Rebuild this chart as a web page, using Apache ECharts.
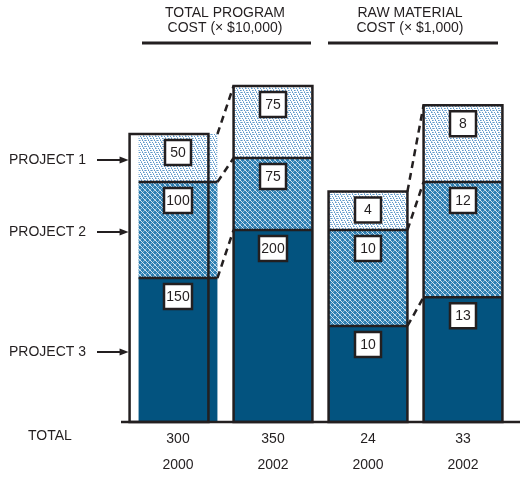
<!DOCTYPE html>
<html>
<head>
<meta charset="utf-8">
<script src="https://cdn.jsdelivr.net/npm/echarts@6/dist/echarts.min.js"></script>
<style>
  html, body { margin: 0; padding: 0; background: #fff; }
  #chart { width: 520px; height: 478px; }
</style>
</head>
<body>
<div id="chart"></div>
<script>
// ---- data ----
const categories = ['2000', '2002', '2000', '2002'];
const project1 = [50, 75, 4, 8];     // top segment
const project2 = [100, 75, 10, 12];  // middle segment
const project3 = [150, 200, 10, 13]; // bottom segment
const totals = [300, 350, 24, 33];
const projectNames = ['PROJECT 1', 'PROJECT 2', 'PROJECT 3'];
const groupTitles = ['TOTAL PROGRAM\nCOST (× $10,000)', 'RAW MATERIAL\nCOST (× $1,000)'];
const groupBars = [[0, 1], [2, 3]];

// ---- styling ----
const INK = '#231f20';
const FONT = '"Liberation Sans", Arial, Helvetica, sans-serif';
const frameShift = [-9, 0, 0, 0];

function makeHatch() {
  const s = 5, c = document.createElement('canvas');
  c.width = s; c.height = s;
  const g = c.getContext('2d');
  g.fillStyle = '#2f80b3'; g.fillRect(0, 0, s, s);
  g.fillStyle = 'rgba(255,255,255,0.8)';
  for (let i = 0; i < s; i++) { g.fillRect(i, i, 1, 1); }
  g.fillStyle = 'rgba(255,255,255,0.45)';
  for (let i = 0; i < s; i++) { if (i !== 2) g.fillRect(i, s - 1 - i, 1, 1); }
  return c;
}
function makeStipple() {
  const s = 6, c = document.createElement('canvas');
  c.width = s; c.height = s;
  const g = c.getContext('2d');
  g.fillStyle = '#ffffff'; g.fillRect(0, 0, s, s);
  g.fillStyle = '#5b97c8';
  [[0,0],[3,0],[1,2],[4,2],[2,4],[5,4]].forEach(p => g.fillRect(p[0], p[1], 1, 1));
  g.fillStyle = '#9cc0de';
  [[1,0],[4,1],[2,2],[5,3],[0,4],[3,5],[0,2]].forEach(p => g.fillRect(p[0], p[1], 1, 1));
  return c;
}
const fills = [
  '#03537f',
  { image: makeHatch(), repeat: 'repeat' },
  { image: makeStipple(), repeat: 'repeat' }
];

function stackYs(api, x, idx) {
  const vals = [api.value(1, idx), api.value(2, idx), api.value(3, idx)];
  const ys = [api.coord([x, 0])[1]];
  let cum = 0;
  vals.forEach(v => { cum += v; ys.push(api.coord([x, cum])[1]); });
  return { vals, ys };
}

function renderItem(params, api) {
  const x = api.value(0);
  const w = api.size([1, 0])[0] * 0.83;
  const cx = api.coord([x, 0])[0];
  const left = cx - w / 2, right = cx + w / 2;
  const { vals, ys } = stackYs(api, x);
  const yb = ys[0];
  const children = [];
  // segment fills
  for (let k = 0; k < 3; k++) {
    children.push({
      type: 'rect',
      shape: { x: left, y: ys[k + 1], width: w, height: ys[k] - ys[k + 1] },
      style: { fill: fills[k] }
    });
  }
  // frame
  const shift = frameShift[x];
  children.push({
    type: 'rect',
    shape: { x: left + shift, y: ys[3], width: w, height: yb - ys[3] },
    style: { fill: 'none', stroke: INK, lineWidth: 2.5 }
  });
  // dividers
  for (let k = 1; k <= 2; k++) {
    children.push({
      type: 'line',
      shape: { x1: left, y1: ys[k], x2: right, y2: ys[k] },
      style: { stroke: INK, lineWidth: 2.5 }
    });
  }
  // value boxes
  for (let k = 0; k < 3; k++) {
    const top = ys[k + 1];
    const bw = vals[k] >= 100 ? 28 : 26;
    children.push({
      type: 'rect',
      shape: { x: cx - bw / 2, y: top + 6, width: bw, height: 25 },
      style: { fill: '#fff', stroke: INK, lineWidth: 2.5 },
      z2: 5
    });
    children.push({
      type: 'text',
      style: {
        text: String(vals[k]), x: cx, y: top + 19,
        textAlign: 'center', textVerticalAlign: 'middle',
        align: 'center', verticalAlign: 'middle',
        font: '14px ' + FONT, fill: INK
      },
      z2: 6
    });
  }
  // dashed connectors to the previous bar of the pair
  if (params.dataIndexInside === 1) {
    const px = api.value(0, 0);
    const pcx = api.coord([px, 0])[0];
    const pRight = pcx + w / 2;
    const prev = stackYs(api, px, 0);
    for (let k = 1; k <= 3; k++) {
      children.push({
        type: 'line',
        shape: { x1: pRight, y1: prev.ys[k], x2: left, y2: ys[k] },
        style: { stroke: INK, lineWidth: 2.5, lineDash: [7, 5] }
      });
    }
  }
  // project labels with arrows pointing at the first bar
  if (params.seriesIndex === 0 && params.dataIndexInside === 0) {
    const tip = left + shift - 1;
    for (let k = 0; k < 3; k++) {
      const mid = (ys[k] + ys[k + 1]) / 2 + 2;
      children.push({
        type: 'text',
        style: {
          text: projectNames[2 - k], x: 9, y: mid,
          textAlign: 'left', textVerticalAlign: 'middle',
          align: 'left', verticalAlign: 'middle',
          font: '14px ' + FONT, fill: INK
        }
      });
      children.push({
        type: 'line',
        shape: { x1: 97, y1: mid, x2: tip - 6, y2: mid },
        style: { stroke: INK, lineWidth: 2 }
      });
      children.push({
        type: 'polygon',
        shape: { points: [[tip, mid], [tip - 9, mid - 3.5], [tip - 9, mid + 3.5]] },
        style: { fill: INK }
      });
    }
  }
  return { type: 'group', children };
}

const series = groupBars.map((idxs, g) => ({
  type: 'custom',
  name: groupTitles[g],
  xAxisIndex: 0,
  yAxisIndex: g,
  renderItem: renderItem,
  encode: { x: 0, y: [1, 2, 3] },
  data: idxs.map(i => [i, project3[i], project2[i], project1[i]])
}));

const chart = echarts.init(document.getElementById('chart'), null, { renderer: 'canvas' });
chart.setOption({
  animation: false,
  backgroundColor: '#fff',
  textStyle: { fontFamily: FONT },
  grid: { left: 130.5, right: 9.5, top: 38, bottom: 56, containLabel: false },
  xAxis: {
    type: 'category',
    data: categories,
    boundaryGap: true,
    axisLine: { show: false },
    axisTick: { show: false },
    splitLine: { show: false },
    axisLabel: {
      interval: 0,
      margin: 4,
      color: INK,
      fontSize: 14,
      fontFamily: FONT,
      formatter: (v, i) => '{t|' + totals[i] + '}\n{y|' + v + '}',
      rich: {
        t: { fontSize: 14, lineHeight: 26, color: INK, fontFamily: FONT },
        y: { fontSize: 14, lineHeight: 26, color: INK, fontFamily: FONT }
      }
    }
  },
  yAxis: [
    { type: 'value', min: 0, max: 400, show: false, splitLine: { show: false } },
    { type: 'value', min: 0, max: 40, show: false, splitLine: { show: false } }
  ],
  graphic: [
    { type: 'text', left: 28, top: 429,
      style: { text: 'TOTAL', font: '14px ' + FONT, fill: INK } },
    { type: 'text', x: 225, y: 21,
      style: { text: groupTitles[0], font: '14px ' + FONT, fill: INK,
               textAlign: 'center', textVerticalAlign: 'middle', align: 'center', verticalAlign: 'middle', lineHeight: 15 } },
    { type: 'text', x: 410, y: 21,
      style: { text: groupTitles[1], font: '14px ' + FONT, fill: INK,
               textAlign: 'center', textVerticalAlign: 'middle', align: 'center', verticalAlign: 'middle', lineHeight: 15 } },
    { type: 'line', shape: { x1: 142, y1: 43, x2: 311, y2: 43 }, style: { stroke: INK, lineWidth: 3 } },
    { type: 'line', shape: { x1: 328, y1: 43, x2: 498, y2: 43 }, style: { stroke: INK, lineWidth: 3 } },
    { type: 'line', shape: { x1: 121, y1: 422, x2: 520, y2: 422 }, style: { stroke: INK, lineWidth: 2.5 }, z: 10 }
  ],
  series: series
});
</script>
</body>
</html>
